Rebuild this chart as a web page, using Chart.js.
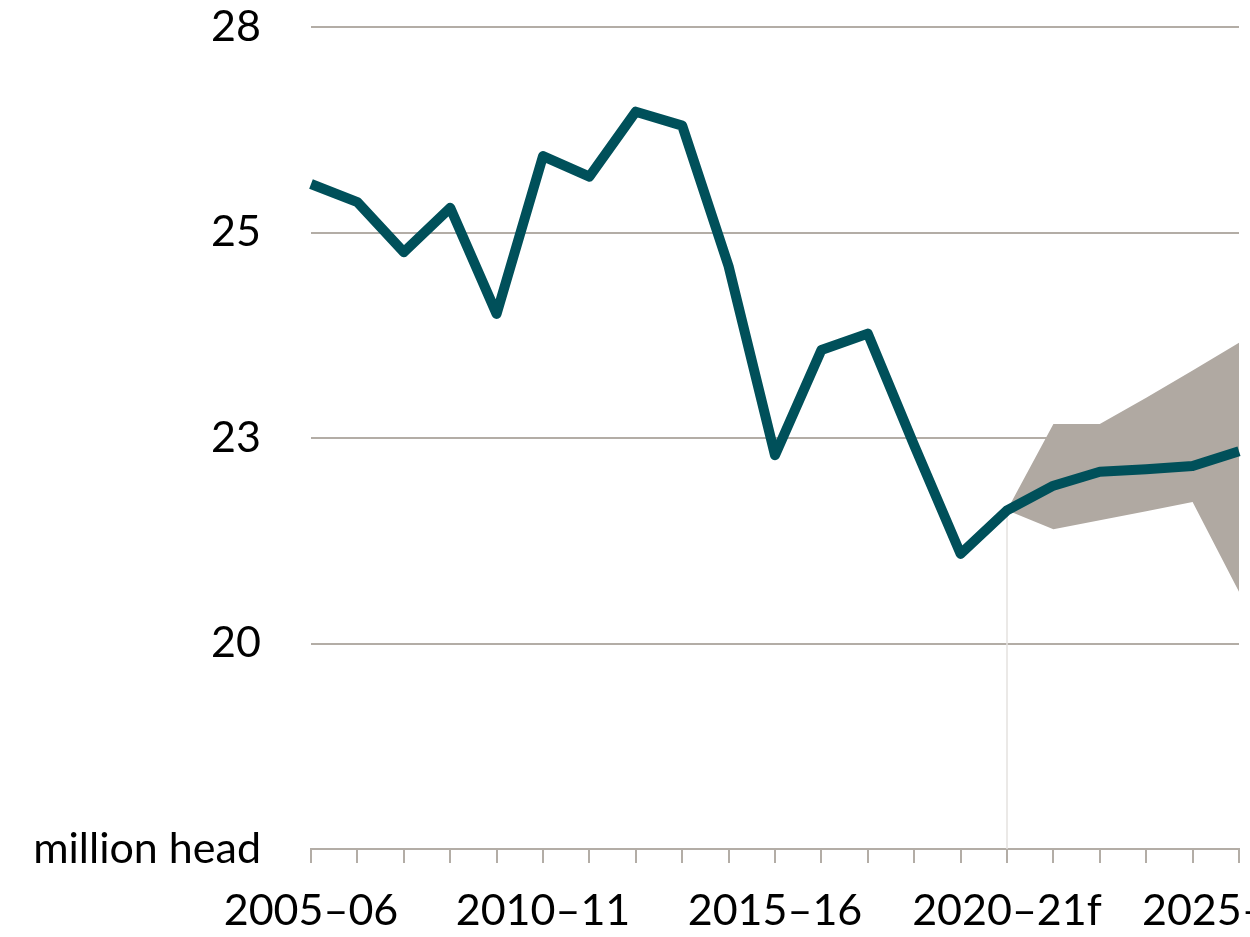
<!DOCTYPE html>
<html>
<head>
<meta charset="utf-8">
<script src="https://cdn.jsdelivr.net/npm/chart.js@4"></script>
<style>
    html, body { margin: 0; padding: 0; background: #fff; overflow: hidden; }
    #wrap { width: 1250px; height: 937px; }
</style>
</head>
<body>
<div id="wrap"><canvas id="myChart"></canvas></div>
<script>
// Data
const years = ['2005–06', '2006–07', '2007–08', '2008–09', '2009–10',
    '2010–11', '2011–12', '2012–13', '2013–14', '2014–15',
    '2015–16', '2016–17', '2017–18', '2018–19', '2019–20',
    '2020–21f', '2021–22z', '2022–23z', '2023–24z', '2024–25z', '2025–26z'];
const herd = [25.59, 25.37, 24.76, 25.30, 24.01, 25.93, 25.68, 26.47, 26.30, 24.59,
    22.29, 23.57, 23.77, 22.41, 21.09, 21.62, 21.92, 22.09, 22.12, 22.16, 22.34];
const bandHigh = [null, null, null, null, null, null, null, null, null, null,
    null, null, null, null, null, 21.62, 22.67, 22.67, 22.99, 23.32, 23.66];
const bandLow = [null, null, null, null, null, null, null, null, null, null,
    null, null, null, null, null, 21.62, 21.39, 21.50, 21.61, 21.72, 20.63];
const forecastStart = '2020–21f';

const fontFamily = 'Lato, "Open Sans", sans-serif';
const gridColor = '#b3ada6';

//Thin marker line at the start of the forecast
const forecastLine = {
    id: 'forecastLine',
    beforeDatasetsDraw(chart) {
        let x = chart.scales.x;
        let y = chart.scales.y;
        let i = years.indexOf(forecastStart);
        let ctx = chart.ctx;
        ctx.save();
        ctx.strokeStyle = '#e4e2df';
        ctx.lineWidth = 1.5;
        ctx.beginPath();
        ctx.moveTo(x.getPixelForValue(i), y.getPixelForValue(herd[i]));
        ctx.lineTo(x.getPixelForValue(i), y.bottom);
        ctx.stroke();
        ctx.restore();
    }
};

new Chart(document.getElementById('myChart'), {
    type: 'line',
    data: {
        labels: years,
        datasets: [
            {
                label: 'Herd',
                data: herd,
                borderColor: '#00505a',
                borderWidth: 10,
                borderJoinStyle: 'round',
                borderCapStyle: 'butt',
                pointRadius: 0,
                tension: 0,
                fill: false
            },
            {
                label: 'High',
                data: bandHigh,
                borderWidth: 0,
                borderColor: 'rgba(0,0,0,0)',
                backgroundColor: '#b0a9a2',
                pointRadius: 0,
                tension: 0,
                fill: '+1'
            },
            {
                label: 'Low',
                data: bandLow,
                borderWidth: 0,
                borderColor: 'rgba(0,0,0,0)',
                pointRadius: 0,
                tension: 0,
                fill: false
            }
        ]
    },
    options: {
        responsive: true,
        maintainAspectRatio: false,
        animation: false,
        layout: { padding: { top: 27, right: 11, left: 0, bottom: 0 } },
        plugins: {
            legend: { display: false },
            tooltip: { enabled: false }
        },
        scales: {
            x: {
                type: 'category',
                offset: false,
                grid: {
                    drawOnChartArea: false,
                    drawTicks: true,
                    tickLength: 14,
                    color: gridColor,
                    lineWidth: 2
                },
                border: { color: gridColor, width: 2 },
                ticks: {
                    autoSkip: false,
                    maxRotation: 0,
                    padding: 22,
                    color: '#000',
                    font: { family: fontFamily, size: 43 },
                    callback: function (value, index) {
                        return index % 5 === 0 ? years[index] : '';
                    }
                },
                afterFit: function (s) {
                    s.height = 88;
                    s.paddingLeft = 0;
                    s.paddingRight = 0;
                }
            },
            y: {
                min: 17.5,
                max: 27.5,
                grid: {
                    drawTicks: false,
                    color: function (c) {
                        return c.tick && c.tick.value === 17.5 ? 'rgba(0,0,0,0)' : gridColor;
                    },
                    lineWidth: 2
                },
                border: { display: false },
                ticks: {
                    stepSize: 2.5,
                    padding: 50,
                    color: '#000',
                    font: { family: fontFamily, size: 43 },
                    callback: function (value) {
                        return value === 17.5 ? 'million head' : Math.round(value);
                    }
                },
                afterFit: function (s) {
                    s.width = 311;
                    s.paddingTop = 0;
                    s.paddingBottom = 0;
                }
            }
        }
    },
    plugins: [forecastLine]
});
</script>
</body>
</html>
